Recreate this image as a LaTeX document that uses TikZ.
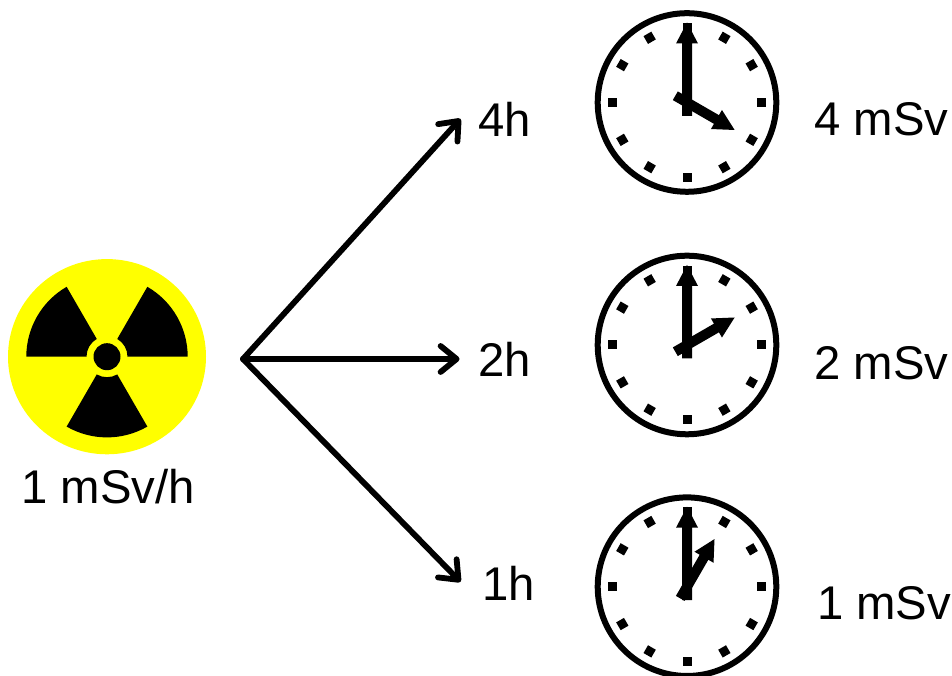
\documentclass[tikz,border=0pt]{standalone}
\usepackage{fontspec}
\setmainfont{Liberation Sans}
\usetikzlibrary{arrows.meta}
\definecolor{radyellow}{RGB}{255,255,0}
\tikzset{
  lbl/.style={anchor=base west,inner sep=0pt,outer sep=0pt,font=\fontsize{47.3}{50}\selectfont},
  conn/.style={line width=5.8pt,line cap=round,-{Straight Barb[length=16pt,width=26pt,line width=5.8pt,round]}},
  rim/.style={draw=black,line width=6pt,fill=white},
  hand/.style={fill=black,draw=none},
  tick/.style={fill=black,draw=none}
}
% clock: #1 centre name, #2 hour-hand angle
\newcommand{\clockface}[2]{%
  \draw[rim] (#1) circle (89.3pt);
  \begin{scope}[shift={(#1)}]
    \foreach \a in {0,30,...,330}{
      \fill[tick,rotate=\a] (70.2pt,-4.5pt) rectangle (79.2pt,4.5pt);
    }
    \fill[hand,rotate=#2] (-13.5pt,-5pt) -- (34pt,-5pt) -- (34pt,-11pt) -- (55pt,0pt) -- (34pt,11pt) -- (34pt,5pt) -- (-13.5pt,5pt) -- cycle;
    \fill[hand] (-5pt,-13.5pt) -- (-5pt,59pt) -- (-11pt,59pt) -- (0pt,80pt) -- (11pt,59pt) -- (5pt,59pt) -- (5pt,-13.5pt) -- cycle;
  \end{scope}
}
\newcommand{\blade}[1]{%
  \fill[black] (#1:20.5pt) -- (#1:80.7pt) arc[start angle=#1,delta angle=60,radius=80.7pt] -- ({#1+60}:20.5pt) arc[start angle={#1+60},delta angle=-60,radius=20.5pt] -- cycle;
}
\begin{document}
\begin{tikzpicture}[x=1pt,y=1pt]
\useasboundingbox (0,0) rectangle (952,676);
\clip (0,0) rectangle (952,676);
% radiation symbol
\coordinate (rad) at (107,319.3);
\fill[radyellow] (rad) ellipse (99pt and 97.6pt);
\begin{scope}[shift={(rad)}]
  \blade{0}\blade{120}\blade{240}
  \fill[black] (0,0) circle (13.5pt);
\end{scope}
\node[lbl] (dose) at (21.5,172) {1 mSv/h};
% clocks
\coordinate (c4) at (687,573.5);
\coordinate (c2) at (687,331);
\coordinate (c1) at (687,89.3);
\clockface{c4}{-30}
\clockface{c2}{30}
\clockface{c1}{60}
% labels
\node[lbl] (h4) at (478.5,539) {4h};
\node[lbl] (h2) at (478.5,299) {2h};
\node[lbl] (h1) at (482.5,75) {1h};
\node[lbl] (s4) at (814.5,540) {4 mSv};
\node[lbl] (s2) at (814.5,296) {2 mSv};
\node[lbl] (s1) at (817,56) {1 mSv};
% connectors
\coordinate (src) at (243,317);
\draw[conn] (src) -- ([xshift=-18pt,yshift=1pt]h4.west);
\draw[conn] (src) -- ([xshift=-19pt]h2.west |- src);
\draw[conn] (src) -- ([xshift=-22pt,yshift=2pt]h1.west);
\end{tikzpicture}
\end{document}
